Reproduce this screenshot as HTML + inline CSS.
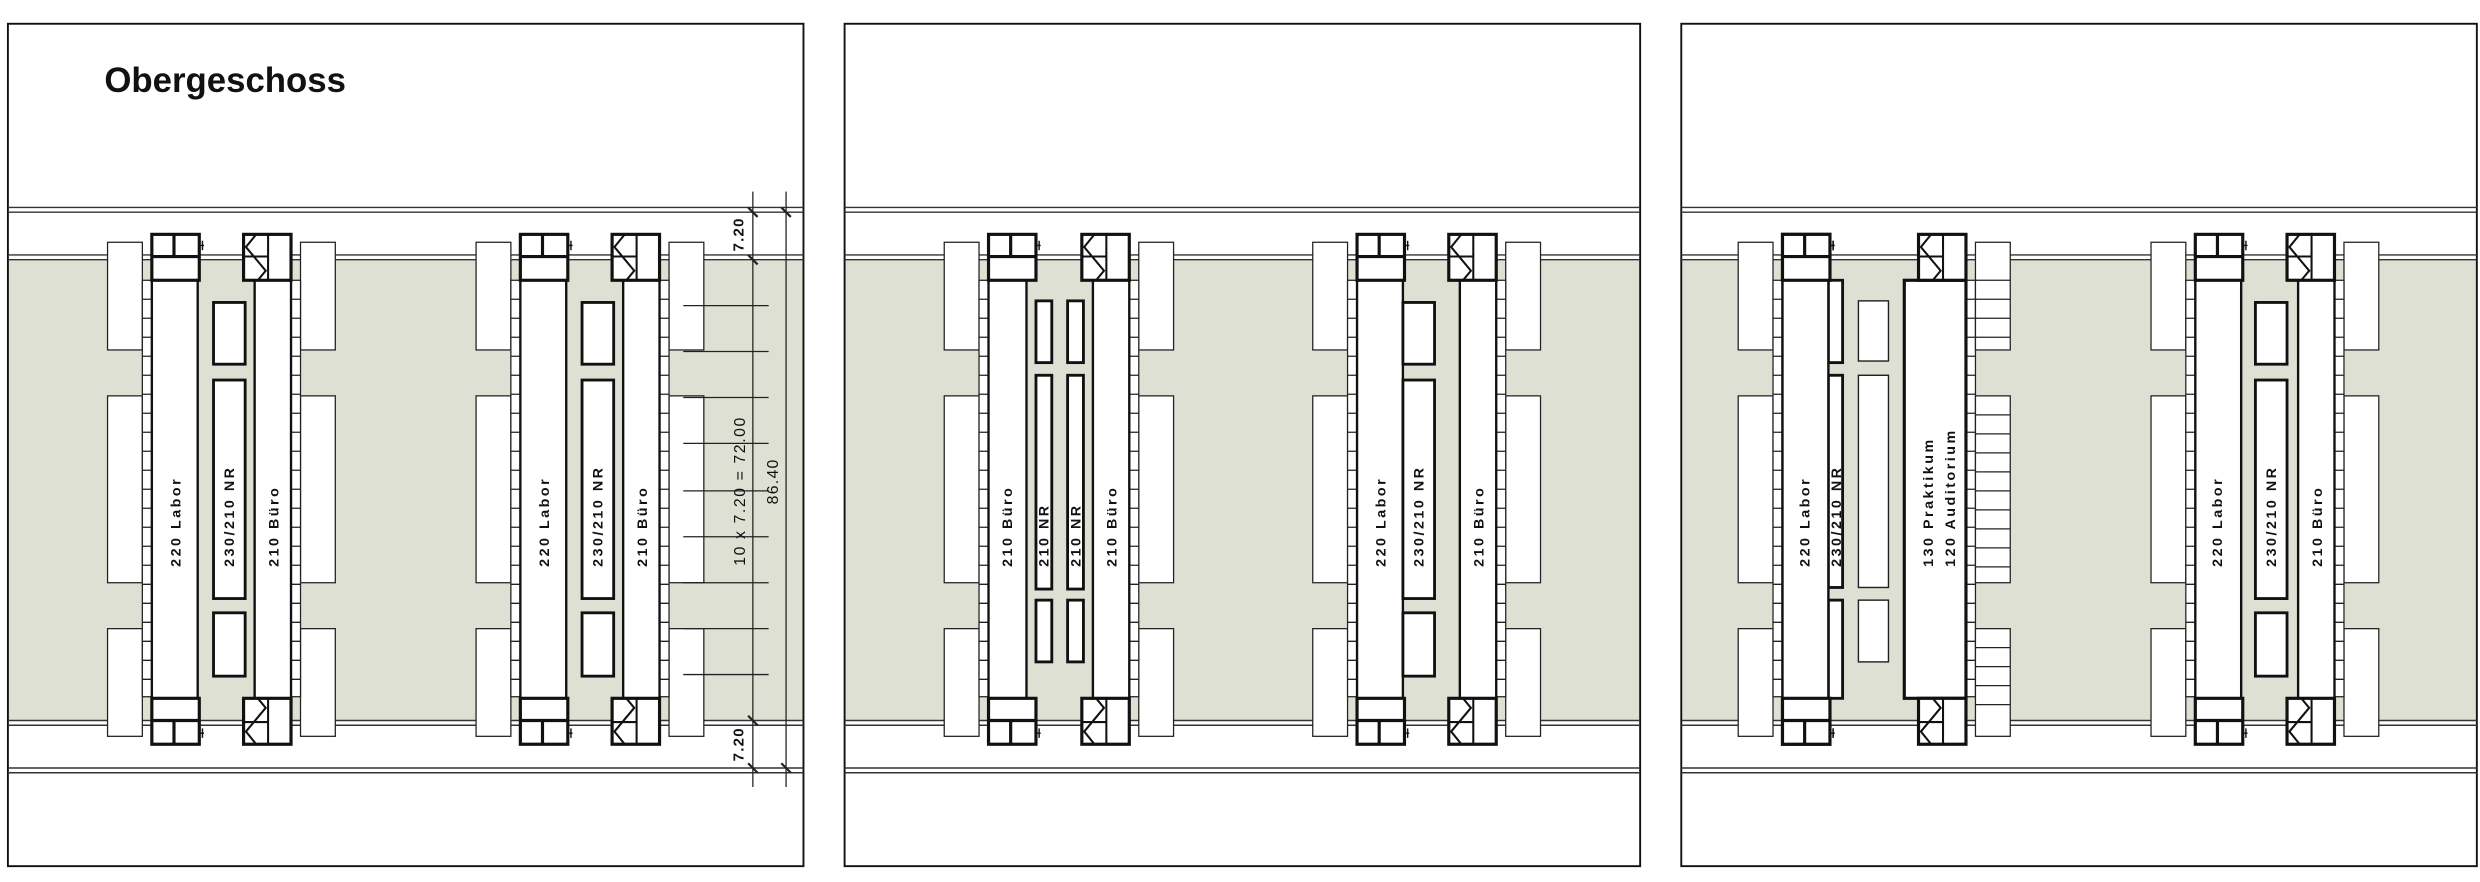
<!DOCTYPE html>
<html><head><meta charset="utf-8"><style>
html,body{margin:0;padding:0;background:#fff;}
svg{display:block;}
text{font-family:"Liberation Sans",sans-serif;font-weight:bold;fill:#111;}
</style></head><body>
<svg width="2480" height="882" viewBox="0 0 1568 557" preserveAspectRatio="none" xmlns="http://www.w3.org/2000/svg">
<defs>
<g id="ladder">
<rect x="0" y="177" width="6" height="263" fill="#fff" stroke="#222" stroke-width="0.8"/>
<path d="M0 189H6M0 201H6M0 213H6M0 225H6M0 237H6M0 249H6M0 261H6M0 273H6M0 285H6M0 297H6M0 309H6M0 321H6M0 333H6M0 345H6M0 357H6M0 369H6M0 381H6M0 393H6M0 405H6M0 417H6M0 429H6" stroke="#222" stroke-width="0.8"/>
</g>
<g id="boxes">
<rect x="0" y="153" width="22" height="68" fill="#fff" stroke="#222" stroke-width="0.8"/>
<rect x="0" y="250" width="22" height="118" fill="#fff" stroke="#222" stroke-width="0.8"/>
<rect x="0" y="397" width="22" height="68" fill="#fff" stroke="#222" stroke-width="0.8"/>
</g>
<g id="sideL"><use href="#boxes" x="-28"/><use href="#ladder" x="-6"/></g>
<g id="sideR"><use href="#boxes" x="36"/><use href="#ladder" x="30"/></g>
<g id="sqcore" fill="#fff" stroke="#111" stroke-width="2">
<rect x="0" y="148" width="30" height="29"/>
<path d="M0 162H30M14 148V162" fill="none"/>
<path d="M30 155H33M32 152V158" stroke-width="0.9" fill="none"/>
<rect x="0" y="441" width="30" height="29"/>
<path d="M0 455H30M14 455V470" fill="none"/>
<path d="M30 463H33M32 460V466" stroke-width="0.9" fill="none"/>
</g>
<g id="xcore" fill="#fff" stroke="#111">
<rect x="0" y="148" width="30" height="29" stroke-width="2"/>
<path d="M15.5 148V177M0 162H15.5M8 148L1.5 156L14 171L9 177" fill="none" stroke-width="1.3"/>
<rect x="0" y="441" width="30" height="29" stroke-width="2"/>
<path d="M15.5 441V470M0 456H15.5M8 470L1.5 462L14 447L9 441" fill="none" stroke-width="1.3"/>
</g>
<g id="labor">
<use href="#sideL"/>
<rect x="0" y="177" width="29" height="264" fill="#fff" stroke="#111" stroke-width="1.5"/>
<use href="#sqcore"/>
</g>
<g id="buero">
<use href="#sideR"/>
<rect x="7" y="177" width="23" height="264" fill="#fff" stroke="#111" stroke-width="1.5"/>
<use href="#xcore"/>
</g>
<g id="nr" fill="#fff" stroke="#111" stroke-width="1.8">
<rect x="0" y="191" width="20" height="39"/>
<rect x="0" y="240" width="20" height="138"/>
<rect x="0" y="387" width="20" height="40"/>
</g>
<g id="nrthin" fill="#fff" stroke="#111" stroke-width="1.8">
<rect x="0" y="190" width="10" height="39"/>
<rect x="0" y="237" width="10" height="135"/>
<rect x="0" y="379" width="10" height="39"/>
</g>
</defs>

<g>
<rect x="5" y="164" width="503" height="291" fill="#dfe0d4"/>
<rect x="534" y="164" width="503" height="291" fill="#dfe0d4"/>
<rect x="1063" y="164" width="503" height="291" fill="#dfe0d4"/>
<rect x="5" y="15" width="503" height="532" fill="none" stroke="#111" stroke-width="1.2"/>
<rect x="534" y="15" width="503" height="532" fill="none" stroke="#111" stroke-width="1.2"/>
<rect x="1063" y="15" width="503" height="532" fill="none" stroke="#111" stroke-width="1.2"/>
<path d="M5 131H508M5 134H508M5 161H508M5 164H508M5 455H508M5 458H508M5 485H508M5 488H508M534 131H1037M534 134H1037M534 161H1037M534 164H1037M534 455H1037M534 458H1037M534 485H1037M534 488H1037M1063 131H1566M1063 134H1566M1063 161H1566M1063 164H1566M1063 455H1566M1063 458H1566M1063 485H1566M1063 488H1566" stroke="#333" stroke-width="0.9"/>
</g>

<text x="66" y="58" style="font-size:22px">Obergeschoss</text>

<!-- PANEL 1 -->
<use href="#labor" x="96"/>
<use href="#nr" x="135"/>
<use href="#buero" x="154"/>
<use href="#labor" x="329"/>
<use href="#nr" x="368"/>
<use href="#buero" x="387"/>

<g stroke="#222" stroke-width="0.8" fill="none">
<path d="M476 121V497M497 121V497"/>
<path d="M432 193H486M432 222H486M432 251H486M432 280H486M432 310H486M432 339H486M432 368H486M432 397H486M432 426H486"/>
<path d="M473 131L479 137M473 161L479 167M473 452L479 458M473 482L479 488M494 131L500 137M494 482L500 488" stroke-width="1.4"/>
</g>
<text transform="translate(470,148) rotate(-90)" text-anchor="middle" style="font-size:9.5px;letter-spacing:0.8px">7.20</text>
<text transform="translate(470,470) rotate(-90)" text-anchor="middle" style="font-size:9.5px;letter-spacing:0.8px">7.20</text>
<text transform="translate(471,310) rotate(-90)" text-anchor="middle" style="font-size:10px;font-weight:normal;letter-spacing:1px" xml:space="preserve">10 x 7.20 = 72.00</text>
<text transform="translate(492,304) rotate(-90)" text-anchor="middle" style="font-size:10px;font-weight:normal;letter-spacing:0.8px">86.40</text>

<!-- PANEL 2 -->
<use href="#sideL" x="625"/>
<rect x="625" y="177" width="24" height="264" fill="#fff" stroke="#111" stroke-width="1.5"/>
<use href="#sqcore" x="625"/>
<use href="#nrthin" x="655"/>
<use href="#nrthin" x="675"/>
<use href="#buero" x="684"/>
<use href="#labor" x="858"/>
<use href="#nr" x="887"/>
<use href="#buero" x="916"/>

<!-- PANEL 3 -->
<use href="#labor" x="1127"/>
<g fill="#fff" stroke="#111" stroke-width="1.8">
<rect x="1156" y="177" width="9" height="52"/>
<rect x="1156" y="237" width="9" height="134"/>
<rect x="1156" y="379" width="9" height="62"/>
</g>
<rect x="1127" y="177" width="29" height="264" fill="#fff" stroke="#111" stroke-width="1.5"/>
<use href="#sqcore" x="1127"/>
<g fill="#fff" stroke="#222" stroke-width="0.9">
<rect x="1175" y="190" width="19" height="38"/>
<rect x="1175" y="237" width="19" height="134"/>
<rect x="1175" y="379" width="19" height="39"/>
</g>
<use href="#ladder" x="1243"/>
<g fill="#fff" stroke="#222" stroke-width="0.8">
<rect x="1249" y="153" width="22" height="68"/>
<rect x="1249" y="250" width="22" height="118"/>
<rect x="1249" y="397" width="22" height="68"/>
<path d="M1249 177H1271M1249 189H1271M1249 201H1271M1249 213H1271M1249 262H1271M1249 274H1271M1249 286H1271M1249 298H1271M1249 310H1271M1249 322H1271M1249 334H1271M1249 346H1271M1249 358H1271M1249 409H1271M1249 421H1271M1249 433H1271M1249 445H1271" fill="none"/>
</g>
<rect x="1204" y="177" width="39" height="264" fill="#fff" stroke="#111" stroke-width="2"/>
<use href="#xcore" x="1213"/>
<use href="#labor" x="1388"/>
<use href="#nr" x="1426"/>
<use href="#buero" x="1446"/>

<g style="font-size:9px;letter-spacing:1.6px" xml:space="preserve">
<text transform="translate(114,358) rotate(-90)">220  Labor</text>
<text transform="translate(148,358) rotate(-90)">230/210  NR</text>
<text transform="translate(176,358) rotate(-90)">210  Büro</text>
<text transform="translate(347,358) rotate(-90)">220  Labor</text>
<text transform="translate(381,358) rotate(-90)">230/210  NR</text>
<text transform="translate(409,358) rotate(-90)">210  Büro</text>

<text transform="translate(640,358) rotate(-90)">210  Büro</text>
<text transform="translate(663,358) rotate(-90)">210  NR</text>
<text transform="translate(683,358) rotate(-90)">210  NR</text>
<text transform="translate(706,358) rotate(-90)">210  Büro</text>
<text transform="translate(876,358) rotate(-90)">220  Labor</text>
<text transform="translate(900,358) rotate(-90)">230/210  NR</text>
<text transform="translate(938,358) rotate(-90)">210  Büro</text>

<text transform="translate(1144,358) rotate(-90)">220  Labor</text>
<text transform="translate(1164,358) rotate(-90)">230/210  NR</text>
<text transform="translate(1222,358) rotate(-90)">130  Praktikum</text>
<text transform="translate(1236,358) rotate(-90)">120  Auditorium</text>
<text transform="translate(1405,358) rotate(-90)">220  Labor</text>
<text transform="translate(1439,358) rotate(-90)">230/210  NR</text>
<text transform="translate(1468,358) rotate(-90)">210  Büro</text>
</g>
</svg>
</body></html>
